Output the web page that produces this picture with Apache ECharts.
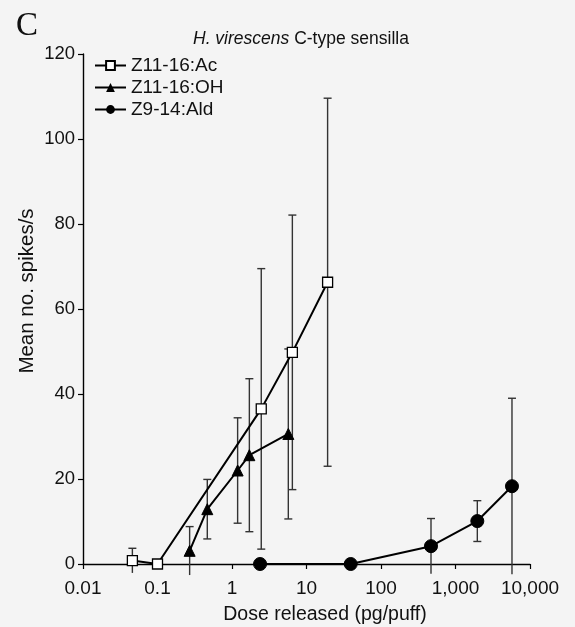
<!DOCTYPE html>
<html>
<head>
<meta charset="utf-8">
<script src="https://cdn.jsdelivr.net/npm/echarts@6/dist/echarts.min.js"></script>
<style>
  html, body { margin: 0; padding: 0; background: #f4f4f4; }
  #chart { width: 575px; height: 627px; }
</style>
</head>
<body>
<div id="chart"></div>
<script>
// Dose-response of H. virescens C-type sensilla (mean spikes/s with error bars)
const doseAc  = [0.046, 0.1, 2.47, 6.46, 19.2];
const meanAc  = [0.8, 0, 36.5, 49.8, 66.3];
const errAc   = [2.9, null, 33.0, 32.3, 43.3];

const doseOH  = [0.27, 0.466, 1.19, 1.71, 5.7];
const meanOH  = [3.1, 12.9, 22.0, 25.6, 30.6];
const errOH   = [5.7, 7.0, 12.4, 18.0, 20.0];

const doseAld = [2.38, 39.2, 469, 1963, 5730];
const meanAld = [0, 0, 4.2, 10.1, 18.3];
const errAld  = [null, null, 6.5, 4.8, 20.7];

const seriesNames = ['Z11-16:Ac', 'Z11-16:OH', 'Z9-14:Ald'];
const xTickLabels = ['0.01', '0.1', '1', '10', '100', '1,000', '10,000'];
const yTicks = [0, 20, 40, 60, 80, 100, 120];

const FONT = '"Liberation Sans", Arial, Helvetica, sans-serif';

function points(xs, ys) {
  return xs.map((x, i) => [x, ys[i]]);
}
function bars(xs, ys, es) {
  const out = [];
  xs.forEach((x, i) => {
    if (es[i] != null) out.push([x, ys[i] - es[i], ys[i] + es[i]]);
  });
  return out;
}

function renderErrorBar(params, api) {
  const x = api.value(0);
  const lo = api.value(1);
  const hi = api.value(2);
  const top = api.coord([x, hi]);
  const bot = api.coord([x, lo]);
  const half = 4;
  const style = { stroke: '#333', lineWidth: 1.4 };
  const children = [
    { type: 'line', shape: { x1: top[0], y1: top[1], x2: bot[0], y2: bot[1] }, style },
    { type: 'line', shape: { x1: top[0] - half, y1: top[1], x2: top[0] + half, y2: top[1] }, style }
  ];
  if (lo >= 0) {
    children.push({ type: 'line', shape: { x1: bot[0] - half, y1: bot[1], x2: bot[0] + half, y2: bot[1] }, style });
  }
  return { type: 'group', children };
}

const chart = echarts.init(document.getElementById('chart'));

const lineStyle = { color: '#000', width: 2 };

chart.setOption({
  backgroundColor: '#f4f4f4',
  animation: false,
  title: [
    {
      text: 'C',
      left: 11,
      top: 5,
      textStyle: { fontFamily: '"Liberation Serif", "Times New Roman", serif', fontSize: 33, fontWeight: 'normal', color: '#111' }
    },
    {
      text: '{i|H. virescens} C-type sensilla',
      left: 188,
      top: 25,
      textStyle: {
        fontFamily: FONT, fontSize: 17.5, fontWeight: 'normal', color: '#111',
        rich: { i: { fontFamily: FONT, fontSize: 17.5, fontStyle: 'italic', color: '#111' } }
      }
    }
  ],
  graphic: [
    {
      type: 'text',
      style: {
        text: 'Dose released (pg/puff)',
        x: 325, y: 615,
        align: 'center', verticalAlign: 'middle',
        font: '19.5px ' + FONT, fill: '#111'
      }
    },
    {
      type: 'text',
      x: 27, y: 291,
      rotation: Math.PI / 2,
      style: {
        text: 'Mean no. spikes/s',
        x: 0, y: 0,
        align: 'center', verticalAlign: 'middle',
        font: '20.5px ' + FONT, fill: '#111'
      }
    }
  ],
  legend: {
    orient: 'vertical',
    left: 89,
    top: 51,
    itemWidth: 31,
    itemHeight: 11,
    itemGap: 3,
    data: seriesNames,
    textStyle: { fontFamily: FONT, fontSize: 19, color: '#111' }
  },
  grid: { left: 83, right: 45, top: 54, bottom: 63, containLabel: false },
  xAxis: {
    type: 'log',
    logBase: 10,
    min: 0.01,
    max: 10000,
    splitNumber: 6,
    axisLine: { lineStyle: { color: '#000', width: 1.4 } },
    axisTick: { show: true, inside: false, length: 5, lineStyle: { color: '#000', width: 1.2 } },
    minorTick: { show: false },
    splitLine: { show: false },
    axisLabel: {
      fontFamily: FONT, fontSize: 19, color: '#111', margin: 15,
      formatter: v => {
        const k = Math.round(Math.log10(v)) + 2;
        return xTickLabels[k] !== undefined ? xTickLabels[k] : '';
      }
    }
  },
  yAxis: {
    type: 'value',
    min: 0,
    max: 120,
    interval: 20,
    axisLine: { show: true, lineStyle: { color: '#000', width: 1.4 } },
    axisTick: { show: true, inside: false, length: 5, lineStyle: { color: '#000', width: 1.2 } },
    splitLine: { show: false },
    axisLabel: {
      fontFamily: FONT, fontSize: 18.5, color: '#111', margin: 8,
      formatter: v => (yTicks.indexOf(v) >= 0 ? String(v) : '')
    }
  },
  series: [
    {
      type: 'custom', name: 'errAc', renderItem: renderErrorBar, silent: true, z: 1,
      data: bars(doseAc, meanAc, errAc), encode: { x: 0, y: [1, 2] }
    },
    {
      type: 'custom', name: 'errOH', renderItem: renderErrorBar, silent: true, z: 1,
      data: bars(doseOH, meanOH, errOH), encode: { x: 0, y: [1, 2] }
    },
    {
      type: 'custom', name: 'errAld', renderItem: renderErrorBar, silent: true, z: 1,
      data: bars(doseAld, meanAld, errAld), encode: { x: 0, y: [1, 2] }
    },
    {
      name: seriesNames[0], type: 'line', z: 3,
      data: points(doseAc, meanAc),
      symbol: 'rect', symbolSize: 10, showAllSymbol: true,
      lineStyle,
      itemStyle: { color: '#fff', borderColor: '#000', borderWidth: 1.3 }
    },
    {
      name: seriesNames[1], type: 'line', z: 3,
      data: points(doseOH, meanOH),
      symbol: 'triangle', symbolSize: 11, showAllSymbol: true,
      lineStyle,
      itemStyle: { color: '#000', borderColor: '#000' }
    },
    {
      name: seriesNames[2], type: 'line', z: 3,
      data: points(doseAld, meanAld),
      symbol: 'circle', symbolSize: 13, showAllSymbol: true,
      lineStyle,
      itemStyle: { color: '#000', borderColor: '#000' }
    }
  ]
});
</script>
</body>
</html>
